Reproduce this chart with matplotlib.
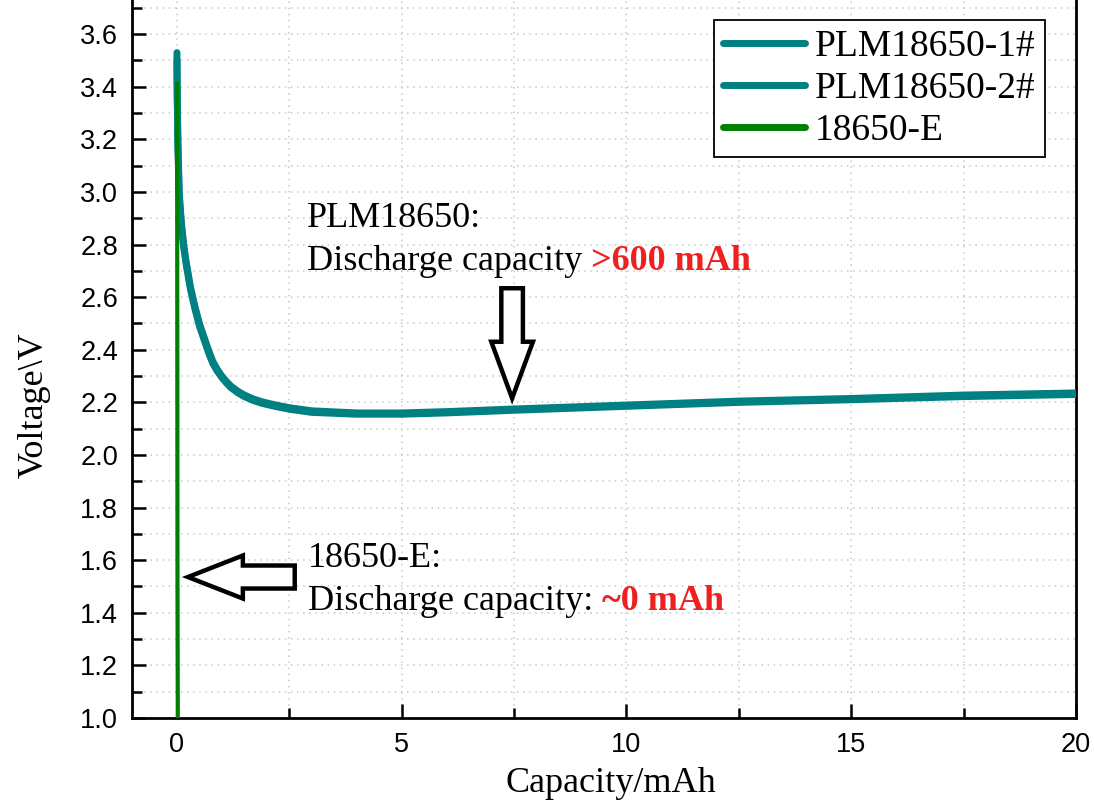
import numpy as np
import matplotlib
matplotlib.use('Agg')
import matplotlib.pyplot as plt
from matplotlib.patches import FancyArrow
from matplotlib.ticker import MultipleLocator

# discharge data
cap_plm1 = [0, 0.005, 0.02, 0.05, 0.1, 0.15, 0.2, 0.3, 0.4, 0.5, 0.6, 0.7, 0.8, 0.9,
            1.0, 1.1, 1.2, 1.35, 1.5, 1.7, 1.9, 2.2, 2.5, 3.0, 4.0, 5.0, 6.0, 7.5,
            10, 12.5, 15, 17.5, 20]
volt_plm1 = [3.53, 3.40, 3.20, 3.00, 2.88, 2.80, 2.74, 2.64, 2.565, 2.50, 2.45, 2.40, 2.355, 2.325,
             2.30, 2.28, 2.262, 2.243, 2.228, 2.213, 2.202, 2.19, 2.18, 2.168, 2.160, 2.160, 2.165, 2.175,
             2.19, 2.205, 2.215, 2.228, 2.236]

cap_plm2 = [0, 0.005, 0.02, 0.05, 0.1, 0.15, 0.2, 0.3, 0.4, 0.5, 0.6, 0.7, 0.8, 0.9,
            1.0, 1.1, 1.2, 1.35, 1.5, 1.7, 1.9, 2.2, 2.5, 3.0, 4.0, 5.0, 6.0, 7.5,
            10, 12.5, 15, 17.5, 20]
volt_plm2 = [3.50, 3.38, 3.18, 2.98, 2.87, 2.79, 2.73, 2.63, 2.555, 2.49, 2.44, 2.39, 2.347, 2.318,
             2.294, 2.274, 2.256, 2.237, 2.222, 2.207, 2.196, 2.184, 2.174, 2.162, 2.155, 2.155, 2.16, 2.17,
             2.185, 2.20, 2.21, 2.222, 2.23]

cap_e = [0, 0.005, 0.012, 0.02]
volt_e = [3.41, 3.0, 1.5, 0.9]

labels = ['PLM18650-1#', 'PLM18650-2#', '18650-E']
teal = '#008080'
green = '#008000'
red = '#ee2020'

serif = 'Liberation Serif'
sans = 'Liberation Sans'

fig = plt.figure(figsize=(10.94, 8.09), dpi=100)
ax = fig.add_axes([132 / 1094, 91 / 809, 944 / 1094, 718 / 809])

ax.plot(cap_plm1, volt_plm1, color=teal, lw=5, label=labels[0], solid_capstyle='round',
        solid_joinstyle='round', zorder=3)
ax.plot(cap_plm2, volt_plm2, color=teal, lw=5, label=labels[1], solid_capstyle='round',
        solid_joinstyle='round', zorder=3)
ax.plot(cap_e, volt_e, color=green, lw=3, label=labels[2], zorder=4)

ax.set_xlim(-1, 20)
ax.set_ylim(1.0, 3.73)
ax.xaxis.set_major_locator(MultipleLocator(5))
ax.xaxis.set_minor_locator(MultipleLocator(2.5))
ax.yaxis.set_major_locator(MultipleLocator(0.2))
ax.yaxis.set_minor_locator(MultipleLocator(0.1))
ax.yaxis.set_major_formatter(matplotlib.ticker.FormatStrFormatter('%.1f'))

ax.grid(which='both', color='#c8c8c8', lw=1.1, linestyle=(0, (1, 3)))
ax.set_axisbelow(True)

ax.spines['top'].set_visible(False)
for s in ['left', 'bottom', 'right']:
    ax.spines[s].set_linewidth(2)
ax.tick_params(which='both', direction='in', width=1.8, right=False, top=False)
ax.tick_params(which='major', length=10, pad=10)
ax.tick_params(which='minor', length=7)
for lab in ax.get_xticklabels() + ax.get_yticklabels():
    lab.set_fontfamily(sans)
    lab.set_fontsize(19.5)

ax.set_xlabel('Capacity/mAh', fontfamily=serif, fontsize=26)
ax.set_ylabel('Voltage\\V', fontfamily=serif, fontsize=26)
ax.xaxis.set_label_coords(0.507, -0.068)
ax.yaxis.set_label_coords(-0.086, 0.435)

leg = ax.legend(loc='upper right', bbox_to_anchor=(0.967, 0.972), borderaxespad=0,
                prop={'family': serif, 'size': 27}, frameon=True, fancybox=False,
                edgecolor='black', framealpha=1, handlelength=2.2, handletextpad=0.25,
                labelspacing=0.2, borderpad=0.25)
leg.get_frame().set_linewidth(1.3)
for h in leg.get_lines():
    h.set_linewidth(5)
    h.set_solid_capstyle('round')

# annotations
t1 = ax.text(2.89, 2.867, 'PLM18650:', fontfamily=serif, fontsize=26, va='baseline')
t2 = ax.text(2.89, 2.703, 'Discharge capacity ', fontfamily=serif, fontsize=26, va='baseline')
ax.annotate('>600 mAh', xy=(1, 0), xycoords=t2, ha='left', va='bottom',
            fontfamily=serif, fontsize=26, fontweight='bold', color=red)

t3 = ax.text(2.91, 1.574, '18650-E:', fontfamily=serif, fontsize=26, va='baseline')
t4 = ax.text(2.91, 1.411, 'Discharge capacity: ', fontfamily=serif, fontsize=26, va='baseline')
ax.annotate('~0 mAh', xy=(1, 0), xycoords=t4, ha='left', va='bottom',
            fontfamily=serif, fontsize=26, fontweight='bold', color=red)

down = FancyArrow(7.456, 2.634, 0, 2.2156 - 2.634, width=0.48, head_width=0.926,
                  head_length=0.215, length_includes_head=True,
                  fc='white', ec='black', lw=3.2, joinstyle='miter', zorder=5)
left = FancyArrow(2.62, 1.536, 0.244 - 2.62, 0, width=0.0875, head_width=0.1635,
                  head_length=1.222, length_includes_head=True,
                  fc='white', ec='black', lw=3.2, joinstyle='miter', zorder=5)
ax.add_patch(down)
ax.add_patch(left)

fig.savefig('out.png', dpi=100)
